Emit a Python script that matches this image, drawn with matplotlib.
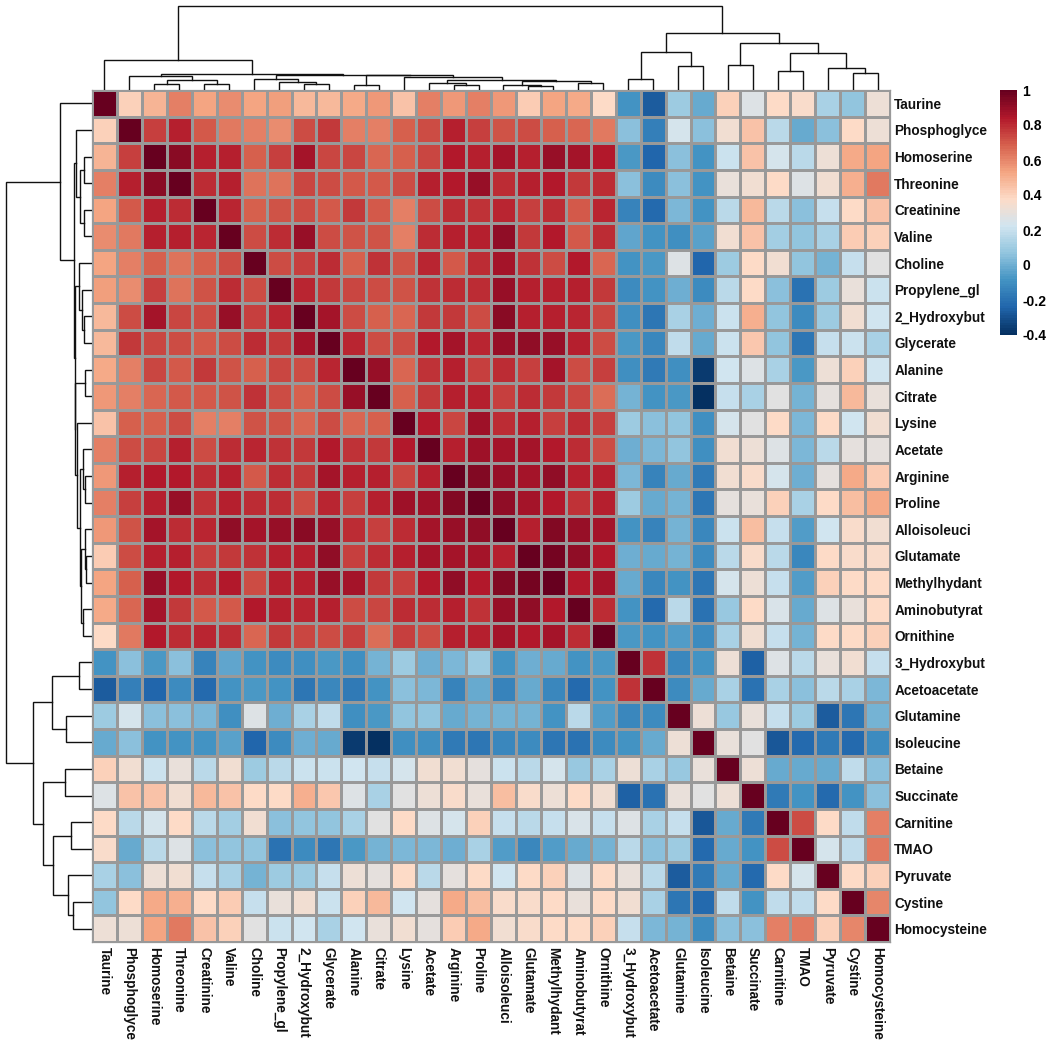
import numpy as np
import matplotlib
matplotlib.use('Agg')
import matplotlib.pyplot as plt
from matplotlib.colors import LinearSegmentedColormap

plt.rcParams['font.family'] = ['Liberation Sans', 'DejaVu Sans']

labels = ['Taurine', 'Phosphoglyce', 'Homoserine', 'Threonine', 'Creatinine', 'Valine', 'Choline',
          'Propylene_gl', '2_Hydroxybut', 'Glycerate', 'Alanine', 'Citrate', 'Lysine', 'Acetate',
          'Arginine', 'Proline', 'Alloisoleuci', 'Glutamate', 'Methylhydant', 'Aminobutyrat',
          'Ornithine', '3_Hydroxybut', 'Acetoacetate', 'Glutamine', 'Isoleucine', 'Betaine',
          'Succinate', 'Carnitine', 'TMAO', 'Pyruvate', 'Cystine', 'Homocysteine']

# upper triangle of the correlation matrix, each row starts on the diagonal
taurine = [1, .40, .49, .61, .53, .59, .53, .54, .48, .48, .51, .56, .45, .62, .56, .62, .56, .42, .53, .52, .37, -.09, -.27, .09, -.01, .41, .27, .38, .36, .13, .07, .32]
phosphoglyce = [1, .76, .82, .70, .63, .62, .59, .72, .77, .62, .62, .68, .72, .83, .76, .71, .73, .68, .67, .63, .05, -.16, .24, .06, .34, .45, .16, -.01, .05, .37, .32]
homoserine = [1, .92, .83, .83, .69, .76, .86, .74, .74, .67, .69, .74, .84, .82, .86, .82, .89, .86, .84, -.07, -.24, .05, -.09, .21, .45, .23, .16, .32, .51, .53]
threonine = [1, .79, .83, .64, .64, .74, .72, .70, .70, .72, .83, .84, .89, .80, .83, .84, .77, .80, .05, -.11, .05, -.09, .30, .33, .37, .27, .34, .50, .63]
creatinine = [1, .81, .69, .71, .73, .70, .77, .70, .62, .73, .80, .78, .81, .76, .80, .70, .81, -.14, -.22, .02, -.09, .16, .47, .17, .05, .19, .37, .45]
valine = [1, .73, .80, .89, .73, .71, .71, .62, .79, .83, .82, .91, .77, .84, .70, .80, -.03, -.09, -.10, -.04, .34, .45, .11, .07, .13, .42, .41]
choline = [1, .72, .76, .79, .68, .78, .71, .81, .70, .80, .87, .78, .72, .84, .67, -.08, -.07, .26, -.24, .10, .37, .33, .07, .01, .19, .28]
propylene = [1, .81, .77, .74, .72, .71, .78, .80, .80, .90, .82, .82, .83, .77, -.11, -.09, 0, -.12, .16, .37, .05, -.20, .10, .30, .21]
hydroxybut2 = [1, .87, .73, .69, .67, .77, .77, .72, .92, .83, .83, .81, .74, -.10, -.18, .12, 0, .21, .50, .07, -.12, .10, .33, .22]
glycerate = [1, .81, .72, .73, .84, .86, .81, .90, .91, .90, .82, .72, -.07, -.13, .18, -.01, .21, .43, .07, -.18, .19, .21, .13]
alanine = [1, .89, .67, .78, .82, .76, .79, .76, .86, .72, .76, -.10, -.17, -.10, -.36, .22, .26, .13, -.07, .32, .40, .22]
citrate = [1, .69, .77, .82, .83, .76, .80, .77, .74, .66, .01, -.09, -.07, -.40, .20, .13, .28, .01, .29, .47, .30]
lysine = [1, .84, .74, .88, .80, .83, .76, .79, .76, .10, .06, .07, -.10, .23, .28, .37, .03, .37, .22, .34]
acetate = [1, .83, .88, .87, .86, .84, .80, .73, 0, .02, .07, -.10, .33, .32, .27, .02, .16, .29, .29]
arginine = [1, .93, .89, .86, .91, .83, .83, .03, -.14, -.01, -.17, .34, .36, .23, 0, .29, .52, .42]
proline = [1, .91, .87, .84, .78, .83, .10, -.01, .01, -.18, .29, .30, .40, .12, .37, .46, .51]
alloisoleuci = [1, .83, .94, .89, .86, -.09, -.14, .01, -.13, .21, .46, .19, -.06, .22, .36, .33]
glutamate = [1, .97, .91, .84, 0, -.01, .01, -.11, .16, .36, .16, -.13, .37, .36, .36]
methylhydant = [1, .84, .86, -.01, -.13, -.09, -.18, .24, .32, .20, -.06, .41, .38, .37]
aminobutyrat = [1, .80, -.09, -.22, .16, -.20, .08, .37, .25, -.02, .27, .30, .38]
ornithine = [1, -.07, -.09, -.06, -.11, .13, .33, .19, .01, .37, .37, .40]
hydroxybut3 = [1, .78, -.13, -.09, .32, -.26, .26, .16, .30, .33, .20]
acetoacetate = [1, -.12, -.01, .13, -.20, .13, .05, .16, .13, .03]
glutamine = [1, .32, .08, .31, .19, .10, -.27, -.18, .01]
isoleucine = [1, .31, .28, -.28, -.23, -.17, -.22, -.11]
betaine = [1, .32, -.01, -.01, -.02, .18, .05]
succinate = [1, -.17, -.08, -.22, -.09, .05]
carnitine = [1, .72, .37, .18, .61]
tmao = [1, .24, .18, .63]
pyruvate = [1, .37, .41]
cystine = [1, .60]
homocysteine = [1]

rows = [taurine, phosphoglyce, homoserine, threonine, creatinine, valine, choline, propylene,
        hydroxybut2, glycerate, alanine, citrate, lysine, acetate, arginine, proline, alloisoleuci,
        glutamate, methylhydant, aminobutyrat, ornithine, hydroxybut3, acetoacetate, glutamine,
        isoleucine, betaine, succinate, carnitine, tmao, pyruvate, cystine, homocysteine]

# dendrogram merges: ids below 32 are leaves, 32+i is the node made by merge i
merge_left = [2, 4, 32, 1, 8, 7, 6, 10, 14, 13, 17, 16, 19, 43, 41, 12, 39, 38, 35, 0,
              21, 23, 52, 25, 27, 30, 29, 56, 55, 54, 51]
merge_right = [3, 5, 33, 34, 9, 36, 37, 11, 15, 40, 18, 42, 20, 44, 45, 46, 47, 48, 49, 50,
               22, 24, 53, 26, 28, 31, 57, 58, 59, 60, 61]
merge_height = [6, 6, 10, 14, 6.5, 8, 10.7, 5.5, 5, 7, 4, 5.5, 7, 9, 10.3, 12.7, 14.7, 15.3, 16.5, 30,
                11, 24, 38, 25, 19, 17, 22, 37, 47, 57, 84]

colorbar_ticks = [-0.4, -0.2, 0, 0.2, 0.4, 0.6, 0.8, 1]
colorbar_labels = ['-0.4', '-0.2', '0', '0.2', '0.4', '0.6', '0.8', '1']

# RdBu without the white middle class
cmap = LinearSegmentedColormap.from_list('rdbu10', ['#053061', '#2166ac', '#4393c3', '#92c5de', '#d1e5f0',
                                                    '#fddbc7', '#f4a582', '#d6604d', '#b2182b', '#67001f'], N=100)

n = len(labels)
corr = np.zeros((n, n))
for i, row in enumerate(rows):
    corr[i, i:] = row
    corr[i:, i] = row

W, H = 1050, 1045


def px_axes(left, top, right, bottom):
    return fig.add_axes([left / W, 1 - bottom / H, (right - left) / W, (bottom - top) / H])


def draw_dendrogram(ax, horizontal):
    pos = {i: i + 0.5 for i in range(n)}
    hgt = {i: -3 for i in range(n)}
    for k, (a, b, h) in enumerate(zip(merge_left, merge_right, merge_height)):
        xs = [pos[a], pos[a], pos[b], pos[b]]
        ys = [hgt[a], h, h, hgt[b]]
        if horizontal:
            ax.plot(xs, ys, color='#111111', lw=1.0, solid_joinstyle='miter')
        else:
            ax.plot(ys, xs, color='#111111', lw=1.0, solid_joinstyle='miter')
        pos[n + k] = (pos[a] + pos[b]) / 2
        hgt[n + k] = h
    ax.axis('off')


fig = plt.figure(figsize=(W / 100, H / 100), dpi=100)

ax = px_axes(92, 90, 890, 942)
mesh = ax.pcolormesh(corr, cmap=cmap, vmin=-0.4, vmax=1, edgecolors='#999999', linewidth=0.75)
ax.set_xlim(0, n)
ax.set_ylim(n, 0)
ax.set_xticks(np.arange(n) + 0.5)
ax.set_xticklabels(labels, rotation=270, fontsize=9.8, fontweight='bold', color='#111111')
ax.yaxis.tick_right()
ax.set_yticks(np.arange(n) + 0.5)
ax.set_yticklabels(labels, fontsize=9.8, fontweight='bold', color='#111111')
ax.tick_params(axis='x', length=0, pad=3.5)
ax.tick_params(axis='y', length=0, pad=3)
for s in ax.spines.values():
    s.set_color('#999999')
    s.set_linewidth(0.9)

top = px_axes(92, 0, 890, 90)
top.set_xlim(0, n)
top.set_ylim(0, 90)
draw_dendrogram(top, True)

left = px_axes(0, 90, 92, 942)
left.set_ylim(n, 0)
left.set_xlim(90, -2)
draw_dendrogram(left, False)

cax = px_axes(1000, 90, 1017, 335)
cb = fig.colorbar(mesh, cax=cax)
cb.set_ticks(colorbar_ticks)
cb.set_ticklabels(colorbar_labels)
cb.ax.tick_params(length=0, pad=4, labelsize=10)
for t in cb.ax.get_yticklabels():
    t.set_fontweight('bold')
cb.outline.set_visible(False)

fig.savefig('out.png', dpi=100)
